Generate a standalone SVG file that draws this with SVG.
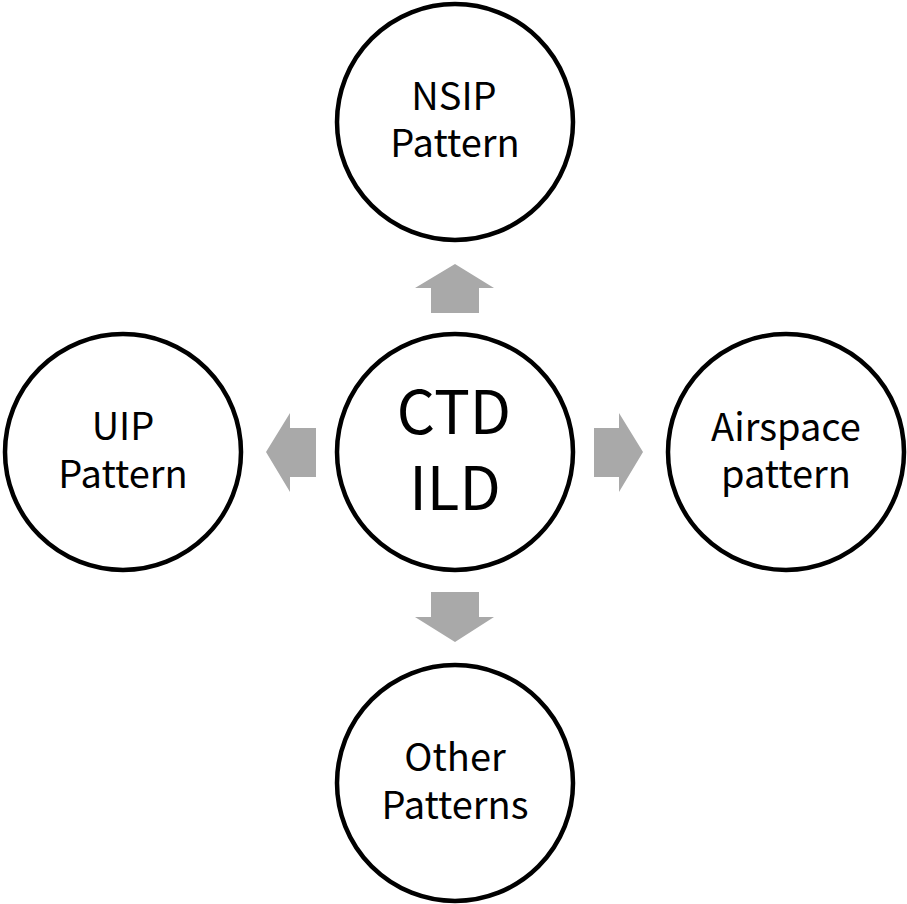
<svg xmlns="http://www.w3.org/2000/svg" width="907" height="904" viewBox="0 0 907 904">
<style>
.node circle{fill:#fff;stroke:#000;stroke-width:4.5}
.t{font-family:"Noto Sans CJK SC","Source Sans Pro","Noto Sans",sans-serif;font-size:38px;fill:#000;text-anchor:middle}
.big{font-size:60px}
.arr{fill:#a9a9a9}
</style>
<rect width="907" height="904" fill="#fff"/>
<g id="connectors">
<polygon class="arr" points="431,313 431,288 415,288 455,264 494,288 479,288 479,313"/>
<polygon class="arr" points="431,592 479,592 479,617 494,617 455,642 415,617 431,617"/>
<polygon class="arr" points="316,428 290,428 290,413 266,452 290,492 290,477 316,477"/>
<polygon class="arr" points="594,428 619,428 619,413 643,452 619,492 619,477 594,477"/>
</g>
<g id="center" class="node"><circle cx="455" cy="452" r="118"/>
<text class="t big" x="454" y="434">CTD</text><text class="t big" x="455" y="510">ILD</text></g>
<g id="nsip" class="node"><circle cx="455" cy="122" r="118"/>
<text class="t" x="454" y="110">NSIP</text><text class="t" x="455" y="157">Pattern</text></g>
<g id="uip" class="node"><circle cx="123" cy="452" r="118"/>
<text class="t" x="123" y="440">UIP</text><text class="t" x="123" y="488">Pattern</text></g>
<g id="airspace" class="node"><circle cx="786" cy="452" r="118"/>
<text class="t" x="786" y="441">Airspace</text><text class="t" x="786" y="488">pattern</text></g>
<g id="other" class="node"><circle cx="455" cy="783" r="118"/>
<text class="t" x="455" y="771">Other</text><text class="t" x="455" y="819">Patterns</text></g>
</svg>
